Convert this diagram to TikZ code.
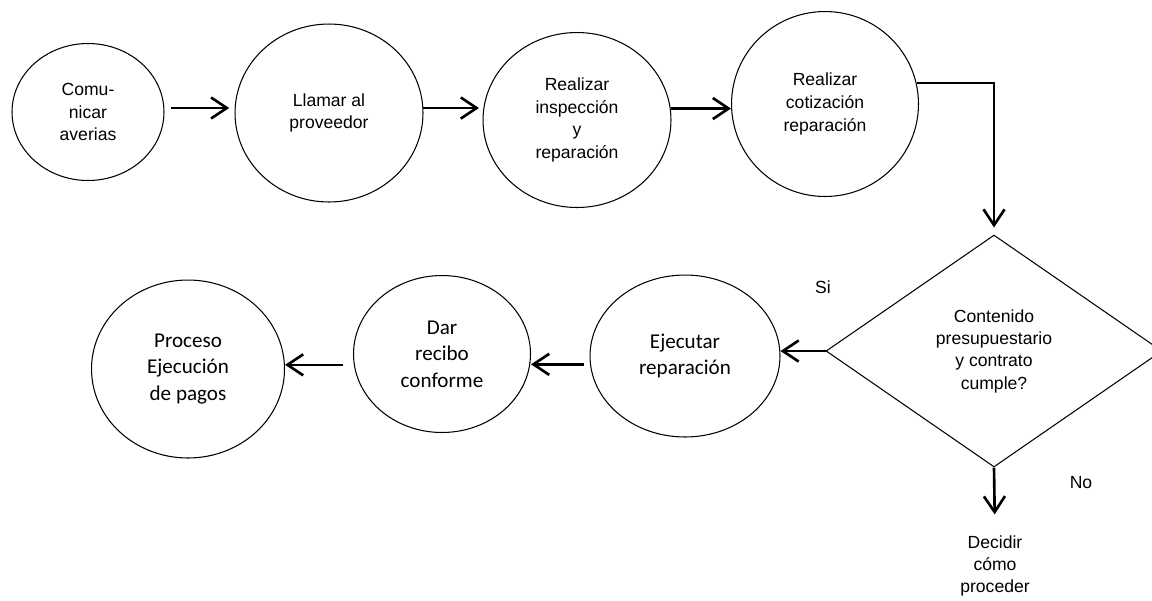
\documentclass[tikz,border=0pt]{standalone}
\usepackage{fontspec}
\setmainfont{Liberation Sans}
\newfontfamily\calibrifont{Carlito}
\usetikzlibrary{shapes.geometric,arrows.meta}

\begin{document}
\begin{tikzpicture}[x=0.02cm,y=-0.02cm,
    paso/.style={draw,ellipse,line width=0.6pt,inner sep=0pt,align=center,
        font=\fontsize{10}{13}\selectfont},
    pasoc/.style={paso,font=\calibrifont\fontsize{12}{15}\selectfont},
    flecha/.style={line width=1.5pt,-{Straight Barb[length=9pt,width=12pt]}}]

    % Marco de la figura
    \useasboundingbox (0,0) rectangle (1152,600);

    % Fila superior de pasos
    \node[paso,minimum width=3.04cm,minimum height=2.74cm] (comunicar) at (88,112) {Comu-\\nicar\\averias};
    \node[paso,minimum width=3.76cm,minimum height=3.56cm] (llamar) at (329,113) {Llamar al\\proveedor};
    \node[paso,minimum width=3.76cm,minimum height=3.5cm] (inspeccion) at (577,120) {Realizar\\inspección\\y\\reparación};
    \node[paso,minimum width=3.74cm,minimum height=3.7cm] (cotizacion) at (825,104) {Realizar\\cotización\\reparación};

    % Decision
    \node[draw,diamond,line width=0.6pt,inner sep=0pt,aspect=1.45,align=center,
        minimum width=6.72cm,minimum height=4.64cm,font=\fontsize{10}{12.7}\selectfont]
        (cumple) at (994,351) {Contenido\\presupuestario\\y contrato\\cumple?};

    % Fila inferior de pasos
    \node[pasoc,minimum width=3.8cm,minimum height=3.24cm] (ejecutar) at (685,356) {Ejecutar\\reparación};
    \node[pasoc,minimum width=3.54cm,minimum height=3.14cm] (recibo) at (442,354) {Dar\\recibo\\conforme};
    \node[pasoc,minimum width=3.86cm,minimum height=3.56cm] (pagos) at (188,369) {Proceso\\Ejecución\\de pagos};

    % Textos sueltos
    \node[font=\fontsize{10}{12.5}\selectfont] (si) at (823,287) {Si};
    \node[font=\fontsize{10}{12.5}\selectfont] (no) at (1081,483) {No};
    \node[align=center,inner sep=0pt,font=\fontsize{10}{12.5}\selectfont] (decidir) at (995,566) {Decidir\\cómo\\proceder};

    % Flechas
    \draw[flecha,shorten <=4pt,shorten >=3pt] (comunicar.3) -- (comunicar.3 -| llamar.west);
    \draw[flecha,shorten >=2pt] (llamar.3) -- (llamar.3 -| inspeccion.west);
    \draw[flecha] (inspeccion.7) -- (inspeccion.7 -| cotizacion.west);
    \draw[flecha,shorten >=4pt] (cotizacion.13) -| (cumple.north);
    \draw[flecha] (cumple.west) -- (cumple.west -| ejecutar.east);
    \draw[flecha,shorten <=3.5pt] (ejecutar.185) -- (ejecutar.185 -| recibo.east);
    \draw[flecha,shorten <=6pt] (recibo.187) -- (recibo.187 -| pagos.east);
    \draw[flecha,shorten >=12pt] (cumple.south) -- (decidir.north);

\end{tikzpicture}
\end{document}
